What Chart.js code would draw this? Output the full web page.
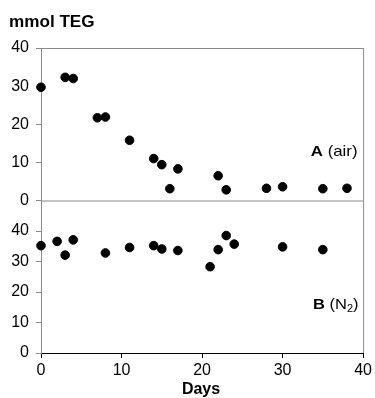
<!DOCTYPE html>
<html>
<head>
<meta charset="utf-8">
<script src="https://cdn.jsdelivr.net/npm/chart.js@4.4.1/dist/chart.umd.min.js"></script>
<style>
  html, body { margin: 0; padding: 0; background: #fff; }
  #wrap { width: 375px; height: 398px; position: relative; }
</style>
</head>
<body>
<div id="wrap"><canvas id="c" width="375" height="398"></canvas></div>
<script>
// Days of sampling and TEG content (mmol) for the two atmospheres
const daysAir = [0, 3, 4, 7, 8, 11, 14, 15, 16, 17, 22, 23, 28, 30, 35, 38];
const tegAir  = [29.7, 32.3, 32.0, 21.7, 21.9, 15.8, 11.0, 9.4, 3.1, 8.3, 6.5, 2.8, 3.2, 3.6, 3.1, 3.2];

const daysN2 = [0, 2, 3, 4, 8, 11, 14, 15, 17, 21, 22, 23, 24, 30, 35];
const tegN2  = [35.2, 36.6, 32.1, 37.1, 32.8, 34.6, 35.2, 34.1, 33.6, 28.3, 33.9, 38.5, 35.7, 34.8, 33.9];

const xTicks = [0, 10, 20, 30, 40];
const yTicks = [0, 10, 20, 30, 40];

const FONT = '"Liberation Sans", Arial, Helvetica, sans-serif';
const GRAY = '#8a8a8a';

const toPoints = (xs, ys) => xs.map((x, i) => ({ x: x, y: ys[i] }));

// Frame lines and text annotations drawn on top of the chart
const decor = {
  id: 'decor',
  afterDraw(chart) {
    const { ctx, scales } = chart;
    const x = scales.x, yA = scales.yA, yB = scales.yB;
    const left = x.left, right = x.right;
    ctx.save();
    ctx.strokeStyle = GRAY;
    ctx.lineWidth = 1;
    ctx.beginPath();
    ctx.moveTo(left, yA.top + 0.5); ctx.lineTo(right + 0.5, yA.top + 0.5);
    ctx.moveTo(right + 0.5, yA.top); ctx.lineTo(right + 0.5, yB.bottom);
    ctx.moveTo(left, yA.bottom + 0.5); ctx.lineTo(right, yA.bottom + 0.5);
    ctx.stroke();

    ctx.fillStyle = '#000';
    ctx.textBaseline = 'alphabetic';

    // text runs drawn with a slight horizontal widening
    const drawParts = (parts, anchorX, baseY, align, sx) => {
      let total = 0;
      parts.forEach(p => { ctx.font = p.font; total += ctx.measureText(p.t).width; });
      total *= sx;
      let cx = align === 'right' ? anchorX - total : (align === 'center' ? anchorX - total / 2 : anchorX);
      ctx.textAlign = 'left';
      parts.forEach(p => {
        ctx.font = p.font;
        ctx.save();
        ctx.translate(cx, baseY + (p.dy || 0));
        ctx.scale(sx, 1);
        ctx.fillText(p.t, 0, 0);
        ctx.restore();
        cx += ctx.measureText(p.t).width * sx;
      });
    };

    // axis caption
    drawParts([{ t: 'mmol TEG', font: 'bold 16px ' + FONT }], 9, 27, 'left', 1.07);

    // x axis title
    drawParts([{ t: 'Days', font: 'bold 16px ' + FONT }], 201, 394, 'center', 1);

    // panel labels
    drawParts([
      { t: 'A', font: 'bold 15px ' + FONT },
      { t: ' (air)', font: '15px ' + FONT }
    ], 357.5, 156, 'right', 1.12);
    drawParts([
      { t: 'B', font: 'bold 15px ' + FONT },
      { t: ' (N', font: '15px ' + FONT },
      { t: '2', font: '10px ' + FONT, dy: 3 },
      { t: ')', font: '15px ' + FONT }
    ], 358.5, 309, 'right', 1.1);
    ctx.restore();
  }
};

const yCommon = {
  type: 'linear',
  position: 'left',
  stack: 'panels',
  stackWeight: 1,
  offset: false,
  ticks: { autoSkip: false, color: '#000', font: { family: FONT, size: 16 }, padding: 7 },
  grid: { drawOnChartArea: false, drawTicks: true, tickLength: 5, color: GRAY },
  border: { display: true, color: GRAY },
  afterFit(s) { s.width = 41; }
};

new Chart(document.getElementById('c'), {
  type: 'scatter',
  data: {
    datasets: [
      {
        label: 'A (air)',
        data: toPoints(daysAir, tegAir),
        yAxisID: 'yA',
        backgroundColor: '#000', borderColor: '#000',
        pointRadius: 4.3, pointHoverRadius: 4.3, clip: false
      },
      {
        label: 'B (N2)',
        data: toPoints(daysN2, tegN2),
        yAxisID: 'yB',
        backgroundColor: '#000', borderColor: '#000',
        pointRadius: 4.3, pointHoverRadius: 4.3, clip: false
      }
    ]
  },
  options: {
    responsive: false,
    animation: false,
    events: [],
    layout: { padding: { top: 48, right: 8, left: 0, bottom: 0 } },
    plugins: { legend: { display: false }, tooltip: { enabled: false }, title: { display: false } },
    scales: {
      x: {
        type: 'linear', min: 0, max: 40,
        afterBuildTicks(s) { s.ticks = xTicks.map(v => ({ value: v })); },
        ticks: { autoSkip: false, color: '#000', font: { family: FONT, size: 16 }, padding: 3, maxRotation: 0 },
        grid: { drawOnChartArea: false, drawTicks: true, tickLength: 5, color: '#000' },
        border: { display: true, color: '#000' },
        afterFit(s) { s.height = 45; }
      },
      yB: Object.assign({}, yCommon, {
        min: 0, max: 50,
        afterBuildTicks(s) { s.ticks = yTicks.map(v => ({ value: v })); }
      }),
      yA: Object.assign({}, yCommon, {
        min: 0, max: 40,
        afterBuildTicks(s) { s.ticks = yTicks.map(v => ({ value: v })); }
      })
    }
  },
  plugins: [decor]
});
</script>
</body>
</html>
